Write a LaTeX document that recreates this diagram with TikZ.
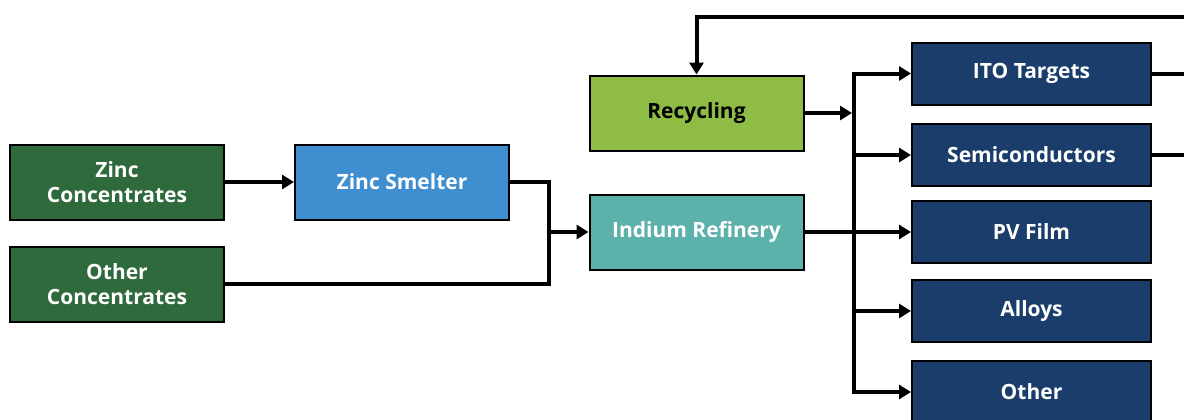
\documentclass[tikz,border=0pt]{standalone}
\usepackage{fontspec}
\setmainfont{Open Sans}
\usetikzlibrary{arrows.meta}

\definecolor{oregreen}{HTML}{2E6A3C}
\definecolor{smeltblue}{HTML}{3F8ED0}
\definecolor{refteal}{HTML}{5CB1AB}
\definecolor{recygreen}{HTML}{8EBC45}
\definecolor{prodnavy}{HTML}{1B3D6B}

\tikzset{
  unit/.style={draw=black,line width=1pt,inner sep=2pt,align=center,
    text=white,font=\fontsize{10.5}{12.5}\selectfont\bfseries},
  ore/.style={unit,fill=oregreen,minimum width=107pt,minimum height=37.5pt},
  stage/.style={unit,minimum width=107pt,minimum height=37.5pt},
  product/.style={unit,fill=prodnavy,minimum width=119.5pt,minimum height=31pt},
  wire/.style={line width=2pt,line join=miter},
  flow/.style={wire,-{Triangle[length=6pt,width=7pt]}}
}

\begin{document}
\begin{tikzpicture}[x=0.5pt,y=-0.5pt]
\useasboundingbox (0,0) rectangle (1184,419);
\clip (0,0) rectangle (1184,419);

% feed and processing
\node[ore] (zinc) at (117,182) {Zinc\\Concentrates};
\node[ore] (other) at (117,284) {Other\\Concentrates};
\node[stage,fill=smeltblue] (smelter) at (402,182) {Zinc Smelter};
\node[stage,fill=refteal] (refinery) at (696.5,232) {Indium Refinery};
\node[stage,fill=recygreen,text=black] (recycling) at (696.5,113) {Recycling};

% end uses
\node[product] (ito) at (1031.5,73.5) {ITO Targets};
\node[product] (semi) at (1031.5,155) {Semiconductors};
\node[product] (pv) at (1031.5,232) {PV Film};
\node[product] (alloys) at (1031.5,311) {Alloys};
\node[product] (misc) at (1031.5,392) {Other};

\coordinate (merge) at (549,232);
\coordinate (bus) at (854,232);
\coordinate (ret) at (1210,17);

\draw[flow] (zinc) -- (smelter);
\draw[wire] (smelter.east) -| (merge) |- (other.east);
\draw[flow] (merge) -- (refinery);

% distribution bus
\draw[flow] (refinery) -- (pv);
\draw[flow] (bus) |- (ito);
\draw[flow] (bus) |- (misc);
\draw[flow] (bus |- semi) -- (semi);
\draw[flow] (bus |- alloys) -- (alloys);
\draw[flow,shorten >=1pt] (recycling) -- (recycling -| bus);

% return loop to recycling
\draw[wire] (ito.east) -| (ret);
\draw[wire] (semi.east) -| (ret);
\draw[flow] (ret) -| (recycling.north);
\end{tikzpicture}
\end{document}
